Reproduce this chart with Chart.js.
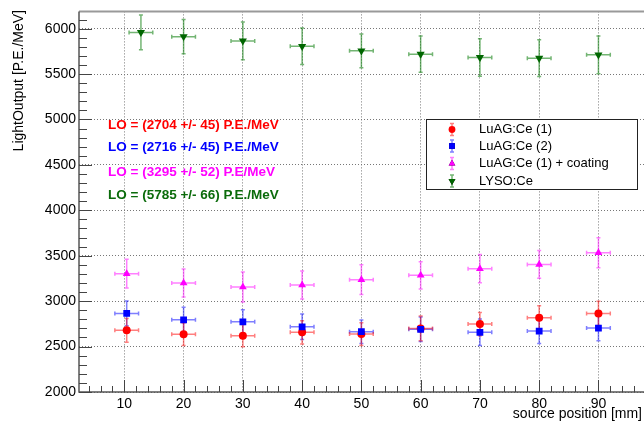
<!DOCTYPE html>
<html>
<head>
<meta charset="utf-8">
<script src="https://cdn.jsdelivr.net/npm/chart.js@4.4.1/dist/chart.umd.min.js"></script>
<style>
  html, body { margin: 0; padding: 0; background: #fff; overflow: hidden; }
  #wrap { width: 644px; height: 427px; overflow: hidden; }
</style>
</head>
<body>
<div id="wrap"><canvas id="loChart" width="660" height="427"></canvas></div>
<script>
// ---- data ----
const posLuag = [10.4, 20, 30, 40, 50, 60, 70, 80, 90];
const posLyso = [12.8, 20, 30, 40, 50, 60, 70, 80, 90];
const posErr = [2, 2, 2, 2, 2, 2, 2, 2, 2];

const luag1 = [2679, 2635, 2620, 2657, 2638, 2700, 2748, 2817, 2865];
const luag1Err = [130, 124, 122, 128, 125, 137, 128, 133, 133];
const luag2 = [2865, 2795, 2773, 2718, 2664, 2690, 2657, 2671, 2704];
const luag2Err = [137, 139, 133, 140, 130, 135, 146, 137, 140];
const coated = [3303, 3200, 3156, 3178, 3237, 3284, 3358, 3405, 3533];
const coatedErr = [159, 155, 166, 155, 164, 151, 155, 153, 164];
const lyso = [5959, 5912, 5865, 5806, 5756, 5719, 5683, 5675, 5712];
const lysoErr = [190, 188, 208, 200, 186, 199, 206, 203, 208];

const xTicks = [10, 20, 30, 40, 50, 60, 70, 80, 90];
const yTicks = [2000, 2500, 3000, 3500, 4000, 4500, 5000, 5500, 6000];

const seriesNames = ['LuAG:Ce (1)', 'LuAG:Ce (2)', 'LuAG:Ce (1) + coating', 'LYSO:Ce'];
const fitLabels = [
  'LO = (2704 +/- 45) P.E./MeV',
  'LO = (2716 +/- 45) P.E./MeV',
  'LO = (3295 +/- 52) P.E/MeV',
  'LO = (5785 +/- 66) P.E./MeV'
];

const FONT = '"Liberation Sans", Arial, Helvetica, sans-serif';

const series = [
  { name: seriesNames[0], xs: posLuag, ys: luag1, err: luag1Err, color: '#ff0000', bar: 'rgba(255,0,0,0.5)', style: 'circle', r: 4, rot: 0, order: 3 },
  { name: seriesNames[1], xs: posLuag, ys: luag2, err: luag2Err, color: '#0000ff', bar: 'rgba(0,0,255,0.5)', style: 'rect', r: 4.8, rot: 0, order: 2 },
  { name: seriesNames[2], xs: posLuag, ys: coated, err: coatedErr, color: '#ff00ff', bar: 'rgba(255,0,255,0.5)', style: 'triangle', r: 4.5, rot: 0, order: 1 },
  { name: seriesNames[3], xs: posLyso, ys: lyso, err: lysoErr, color: '#006600', bar: 'rgba(0,120,0,0.55)', style: 'triangle', r: 4.7, rot: 180, order: 0 }
];
const textColors = ['#ff0000', '#0000ff', '#ff00ff', '#0b6b0b'];

function drawErrBar(ctx, x1, y1, x2, y2, vertical, color) {
  ctx.strokeStyle = color;
  ctx.lineWidth = 1.5;
  ctx.beginPath();
  ctx.moveTo(x1, y1); ctx.lineTo(x2, y2);
  if (vertical) {
    ctx.moveTo(x1 - 2, y1); ctx.lineTo(x1 + 2, y1);
    ctx.moveTo(x2 - 2, y2); ctx.lineTo(x2 + 2, y2);
  } else {
    ctx.moveTo(x1, y1 - 2); ctx.lineTo(x1, y1 + 2);
    ctx.moveTo(x2, y2 - 2); ctx.lineTo(x2, y2 + 2);
  }
  ctx.stroke();
}

// error bars, drawn under the markers
const errorBars = {
  id: 'errorBars',
  beforeDatasetsDraw(chart) {
    const { ctx, scales: { x, y }, chartArea } = chart;
    ctx.save();
    ctx.beginPath();
    ctx.rect(chartArea.left, chartArea.top, chartArea.right - chartArea.left, chartArea.bottom - chartArea.top);
    ctx.clip();
    [...series].reverse().forEach(s => {
      s.ys.forEach((v, i) => {
        const px = x.getPixelForValue(s.xs[i]);
        const py = y.getPixelForValue(v);
        drawErrBar(ctx, px, y.getPixelForValue(v + s.err[i]), px, y.getPixelForValue(v - s.err[i]), true, s.bar);
        drawErrBar(ctx, x.getPixelForValue(s.xs[i] - posErr[i]), py, x.getPixelForValue(s.xs[i] + posErr[i]), py, false, s.bar);
      });
    });
    ctx.restore();
  }
};

// ROOT-like frame, inward ticks, titles, fit text and legend
const decorations = {
  id: 'decorations',
  afterDraw(chart) {
    const { ctx, scales: { x, y }, chartArea: ca } = chart;
    ctx.save();

    // frame
    ctx.strokeStyle = '#999';
    ctx.lineWidth = 2;
    ctx.beginPath(); ctx.moveTo(ca.left, ca.top); ctx.lineTo(ca.right, ca.top); ctx.stroke();
    ctx.strokeStyle = '#555';
    ctx.lineWidth = 1.5;
    ctx.beginPath();
    ctx.moveTo(ca.left, ca.top); ctx.lineTo(ca.left, ca.bottom); ctx.lineTo(ca.right, ca.bottom);
    ctx.stroke();

    // inward ticks
    ctx.lineWidth = 1;
    ctx.strokeStyle = '#444';
    ctx.beginPath();
    for (let v = 2000; v <= y.max; v += 100) {
      const py = Math.round(y.getPixelForValue(v)) + 0.5;
      const len = v % 500 === 0 ? 13 : 8;
      ctx.moveTo(ca.left, py); ctx.lineTo(ca.left + len, py);
    }
    for (let v = 4; v <= x.max; v += 2) {
      const px = Math.round(x.getPixelForValue(v)) + 0.5;
      const len = v % 10 === 0 ? 12 : 6;
      ctx.moveTo(px, ca.bottom); ctx.lineTo(px, ca.bottom - len);
    }
    ctx.stroke();

    // axis titles
    ctx.fillStyle = '#000';
    ctx.font = '14px ' + FONT;
    ctx.textAlign = 'right';
    ctx.textBaseline = 'alphabetic';
    ctx.fillText('source position [mm]', 642, 418);
    ctx.save();
    ctx.translate(23, 10);
    ctx.rotate(-Math.PI / 2);
    ctx.fillText('LightOutput [P.E./MeV]', 0, 0);
    ctx.restore();

    // fit results
    ctx.font = 'bold 13.5px ' + FONT;
    ctx.textAlign = 'left';
    ctx.textBaseline = 'middle';
    const fitY = [125, 147, 172, 195];
    fitLabels.forEach((t, i) => {
      ctx.fillStyle = textColors[i];
      ctx.fillText(t, 108, fitY[i]);
    });

    // legend
    ctx.fillStyle = '#fff';
    ctx.fillRect(426, 119, 212, 71);
    ctx.strokeStyle = '#222';
    ctx.lineWidth = 1;
    ctx.strokeRect(426.5, 119.5, 211, 70);
    const rowY = [129.5, 146, 163.5, 181];
    series.forEach((s, i) => {
      const lx = 452, ly = rowY[i];
      drawErrBar(ctx, lx, ly - 6, lx, ly + 6, true, s.bar);
      Chart.helpers.drawPoint(ctx, { pointStyle: s.style, radius: s.r * 0.85, rotation: s.rot, borderWidth: 0 }, lx, ly);
      ctx.fillStyle = s.color;
      ctx.fill();
      ctx.fillStyle = '#000';
      ctx.font = '13px ' + FONT;
      ctx.textBaseline = 'middle';
      ctx.fillText(s.name, 479, ly);
    });

    ctx.restore();
  }
};

const datasets = series.map(s => ({
  label: s.name,
  data: s.ys.map((v, i) => ({ x: s.xs[i], y: v })),
  pointStyle: s.style,
  pointRadius: s.r,
  rotation: s.rot,
  backgroundColor: s.color,
  borderColor: s.color,
  borderWidth: 0,
  showLine: false,
  order: s.order
}));

const gridStyle = { color: '#777', lineWidth: 1, drawTicks: false };

new Chart(document.getElementById('loChart').getContext('2d'), {
  type: 'scatter',
  data: { datasets },
  options: {
    responsive: false,
    animation: false,
    devicePixelRatio: 1,
    layout: { padding: { top: 10, right: 10, left: 0, bottom: 0 } },
    plugins: { legend: { display: false }, tooltip: { enabled: false } },
    scales: {
      x: {
        type: 'linear', min: 2.35, max: 98.7,
        grid: gridStyle,
        border: { display: false, dash: [1, 2] },
        afterBuildTicks: sc => { sc.ticks = xTicks.map(v => ({ value: v })); },
        afterFit: sc => { sc.height = 35; },
        ticks: { color: '#000', font: { family: FONT, size: 14 }, padding: 4, maxRotation: 0, autoSkip: false, callback: v => String(v) }
      },
      y: {
        type: 'linear', min: 2000, max: 6190,
        grid: gridStyle,
        border: { display: false, dash: [1, 2] },
        afterBuildTicks: sc => { sc.ticks = yTicks.map(v => ({ value: v })); },
        afterFit: sc => { sc.width = 79; },
        ticks: { color: '#000', font: { family: FONT, size: 14 }, padding: 3, autoSkip: false, callback: v => String(v) }
      }
    }
  },
  plugins: [errorBars, decorations]
});
</script>
</body>
</html>
